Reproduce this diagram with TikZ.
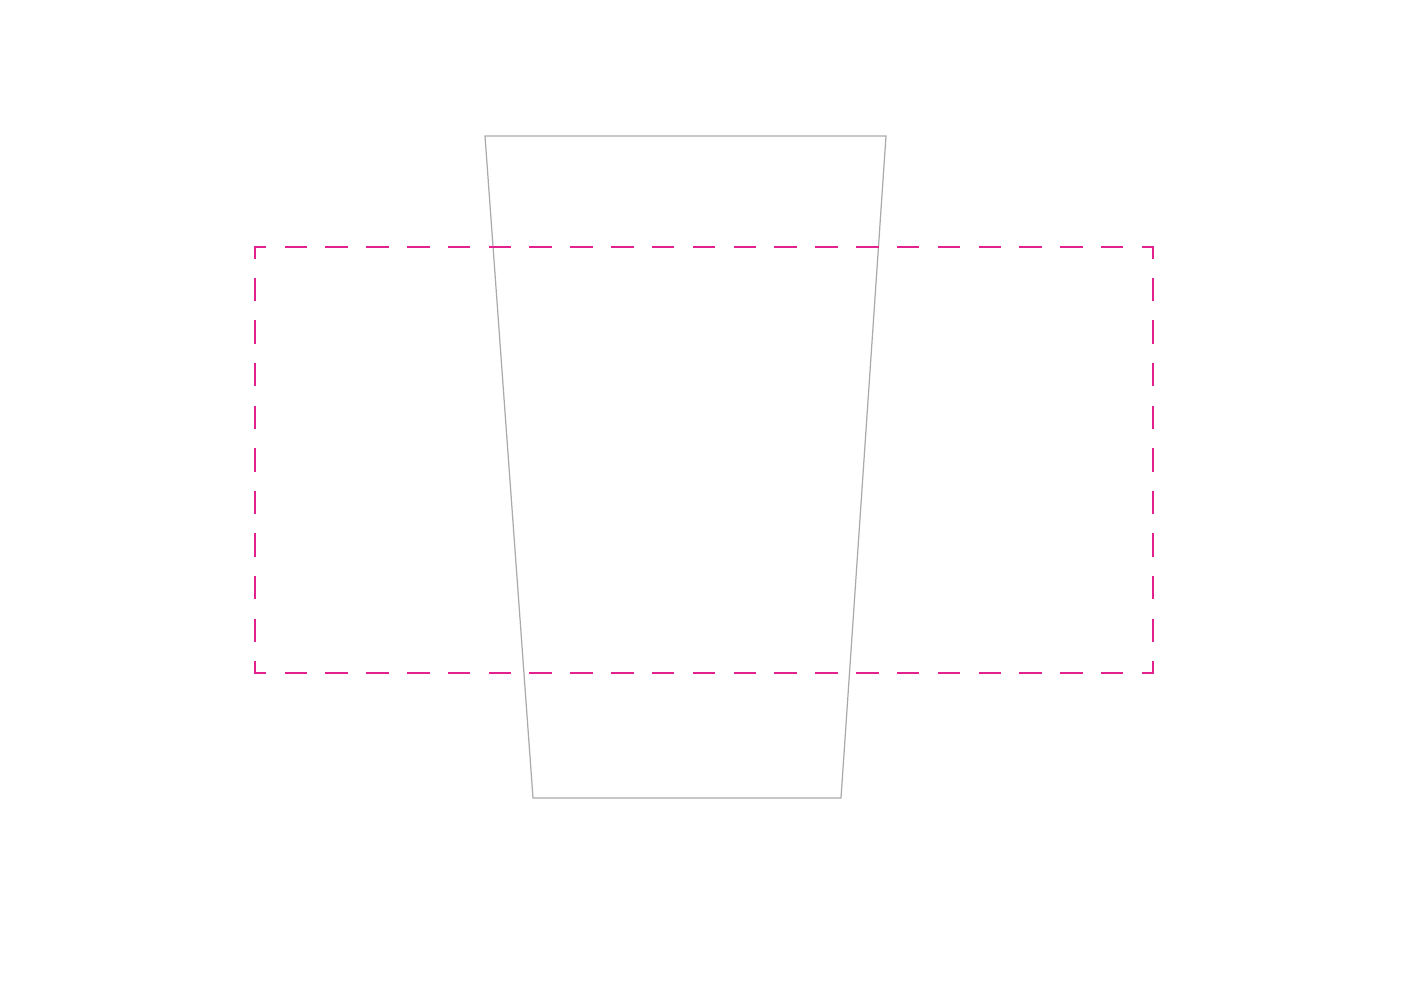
\documentclass[tikz,border=0pt]{standalone}
\usepackage{tikz}

\definecolor{cutMagenta}{RGB}{226,32,142}
\definecolor{cupGray}{RGB}{170,170,170}

\begin{document}
\begin{tikzpicture}
[cupOutline/.style={draw=cupGray,line width=0.35pt,line join=miter},%
  bandLine/.style={draw=cutMagenta,line width=0.6pt,line cap=rect},%
  x=0.1mm,y=-0.1mm]
\useasboundingbox (0,0) rectangle (1404,993);
%% cup corners
\foreach \cornername/\x/\y in {cupTL/485/136, cupTR/886/136, cupBR/841/798, cupBL/533/798}
{
  \coordinate (\cornername) at (\x,\y);
}
%% band corners
\foreach \cornername/\x/\y in {bandNW/255/247, bandNE/1153/247, bandSE/1153/673, bandSW/255/673}
{
  \coordinate (\cornername) at (\x,\y);
}
%% cup outline
\draw[cupOutline] (cupTL) -- (cupTR) -- (cupBR) -- (cupBL) -- cycle;
%% dashed wrap band, each side starts and ends with half a dash
\foreach \startcorner/\endcorner/\dashlen in {bandNW/bandNE/2.041, bandSW/bandSE/2.041,
  bandNW/bandSW/2.13, bandNE/bandSE/2.13}
{
  \draw[bandLine,dash pattern=on \dashlen mm off \dashlen mm,dash phase=\dashlen mm/2]
    (\startcorner) -- (\endcorner);
}
\end{tikzpicture}
\end{document}
